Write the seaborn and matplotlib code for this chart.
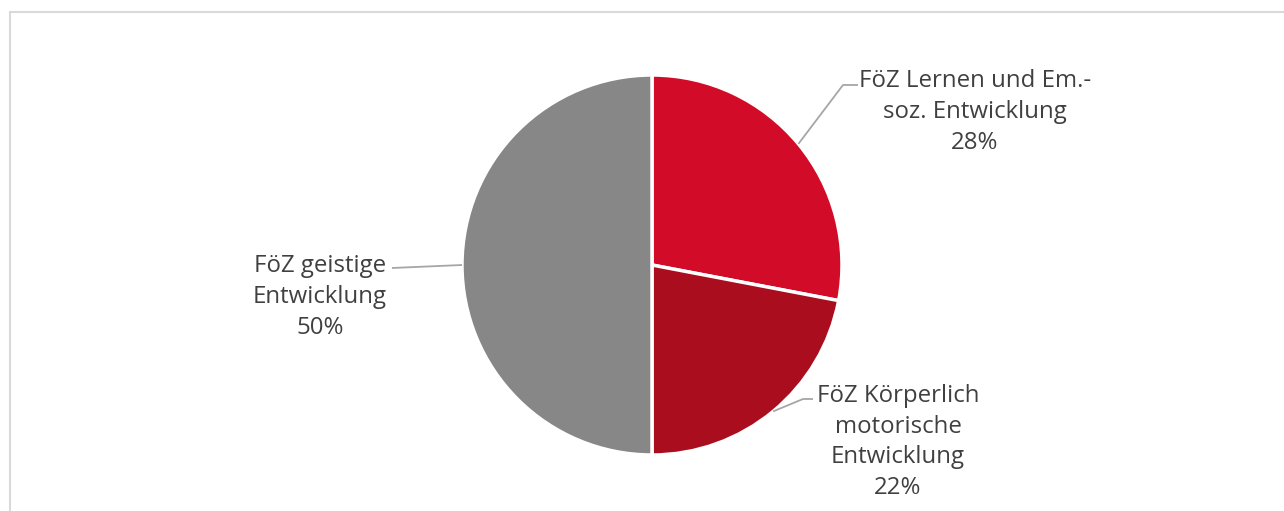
import numpy as np
import matplotlib
matplotlib.use("Agg")
import matplotlib.pyplot as plt
import seaborn as sns
from matplotlib.lines import Line2D

# Data
labels = ["FöZ Lernen und Em.-\nsoz. Entwicklung",
          "FöZ Körperlich\nmotorische\nEntwicklung",
          "FöZ geistige\nEntwicklung"]
values = [28, 22, 50]
colors = ["#D20C28", "#AA0E1E", "#878787"]

sns.set_style("white")
plt.rcParams['font.family'] = ['Open Sans', 'DejaVu Sans']

W, H = 1284, 511
fig = plt.figure(figsize=(W / 100, H / 100), dpi=100)
ax = fig.add_axes([0, 0, 1, 1])

cx, cy, r = 652, 246, 190
ax.pie(values, colors=colors, startangle=90, counterclock=False,
       center=(cx, cy), radius=r, frame=True,
       wedgeprops=dict(edgecolor="white", linewidth=2.5))
ax.set_xlim(0, W)
ax.set_ylim(0, H)
ax.axis("off")

# label placement: (text center x, text center y, elbow x, elbow y, end x)
layout = [
    (975, 399, 843, 426, 858),
    (898, 69, 803, 112, 813),
    (320, 214, None, None, 392),
]

total = sum(values)
start = 90.0
for val, lab, (tx, ty, ex, ey, endx) in zip(values, labels, layout):
    span = 360.0 * val / total
    mid = np.deg2rad(start - span / 2)
    start -= span
    px, py = cx + r * np.cos(mid), cy + r * np.sin(mid)
    if ex is None:
        xs, ys = [px, endx], [py, py - 3]
    else:
        xs, ys = [px, ex, endx], [py, ey, ey]
    ax.plot(xs, ys, color="#A6A6A6", lw=1.3, solid_capstyle="butt")
    pct = f"{round(100 * val / total)}%"
    ax.text(tx, ty, f"{lab}\n{pct}", ha="center", va="center",
            fontsize=17.3, color="#404040", linespacing=1.38)

# outer chart frame (top and left edges visible)
fc = "#D9D9D9"
fig.add_artist(Line2D([9.5 / W, 9.5 / W], [0, 1 - 12.5 / H], color=fc, lw=1.5,
                      transform=fig.transFigure))
fig.add_artist(Line2D([9.5 / W, 1], [1 - 12.5 / H, 1 - 12.5 / H], color=fc, lw=1.5,
                      transform=fig.transFigure))

fig.savefig("out.png", dpi=100)
